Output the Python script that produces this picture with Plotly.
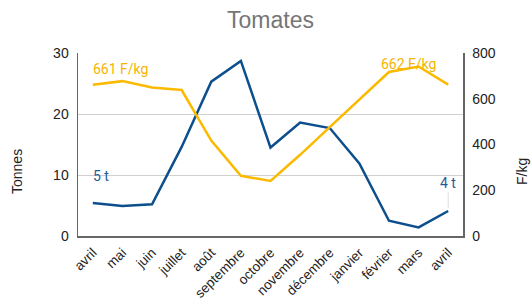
import plotly.graph_objects as go

months = ["avril", "mai", "juin", "juillet", "août", "septembre", "octobre",
          "novembre", "décembre", "janvier", "février", "mars", "avril"]
tonnes = [5.4, 4.9, 5.2, 14.6, 25.3, 28.7, 14.5, 18.6, 17.7, 11.9, 2.5, 1.4, 4.1]
prix = [661, 677, 649, 638, 417, 263, 241, 355, 476, 595, 717, 741, 662]

blue = "#0d4f8c"
orange = "#fbb900"
xs = list(range(len(months)))

W, H = 532, 304
L, R, T, B = 78, 69, 53, 68

fig = go.Figure()
fig.add_trace(go.Scatter(x=xs, y=tonnes, mode="lines", line=dict(color=blue, width=2.5),
                         yaxis="y", showlegend=False, hoverinfo="skip"))
fig.add_trace(go.Scatter(x=xs, y=prix, mode="lines", line=dict(color=orange, width=2.5),
                         yaxis="y2", showlegend=False, hoverinfo="skip"))

lab_font = "Roboto, Arial, sans-serif"
fig.add_annotation(x=0, y=prix[0], xref="x", yref="y2", text=f"{prix[0]} F/kg",
                   showarrow=False, xanchor="left", yanchor="middle", xshift=-2, yshift=16,
                   font=dict(family=lab_font, size=14, color="#f5b400"))
fig.add_annotation(x=0, y=tonnes[0], xref="x", yref="y", text=f"{round(tonnes[0])} t",
                   showarrow=False, xanchor="left", yanchor="middle", xshift=-2, yshift=27,
                   font=dict(family=lab_font, size=14, color="#1f5a99"))
fig.add_annotation(x=12, y=prix[12], xref="x", yref="y2", text=f"{prix[12]} F/kg",
                   showarrow=False, xanchor="right", yanchor="middle", xshift=-10, yshift=21,
                   font=dict(family=lab_font, size=14, color="#f5b400"))
fig.add_annotation(x=12, y=tonnes[12], xref="x", yref="y", text=f"{round(tonnes[12])} t",
                   showarrow=True, ax=0, ay=-28, arrowhead=0, arrowwidth=1, arrowcolor="#dddddd",
                   standoff=3, font=dict(family=lab_font, size=14, color="#1f5a99"))

# axis titles as paper annotations
fig.add_annotation(text="Tonnes", xref="paper", yref="paper", x=(17 - L) / (W - L - R),
                   y=(H - B - 172) / (H - T - B), showarrow=False, textangle=-90,
                   xanchor="center", yanchor="middle", font=dict(size=14, color="#222"))
fig.add_annotation(text="F/kg", xref="paper", yref="paper", x=(522 - L) / (W - L - R),
                   y=(H - B - 172) / (H - T - B), showarrow=False, textangle=-90,
                   xanchor="center", yanchor="middle", font=dict(size=14, color="#222"))

fig.update_layout(
    width=W, height=H,
    margin=dict(l=L, r=R, t=T, b=B, autoexpand=False),
    paper_bgcolor="white", plot_bgcolor="white",
    font=dict(family="Liberation Sans, Arial, sans-serif", size=14, color="#222"),
    title=dict(text="Tomates", font=dict(size=23, color="#767676"),
               xref="paper", x=0.5, xanchor="center", yref="container", y=0.934, yanchor="middle"),
    xaxis=dict(tickmode="array", tickvals=xs, ticktext=months, tickangle=-45,
               range=[-0.5, len(months) - 0.5], showline=True, linecolor="#666", linewidth=1.5,
               showgrid=False, zeroline=False, tickfont=dict(size=13.5), ticks="", automargin=False,
               ticklabelstandoff=2),
    yaxis=dict(range=[0, 30], dtick=10, showgrid=True, gridcolor="#d0d0d0", gridwidth=1,
               showline=True, linecolor="#666", linewidth=1.5, zeroline=False,
               ticklabelstandoff=5, automargin=False),
    yaxis2=dict(range=[0, 800], dtick=200, overlaying="y", side="right", showgrid=False,
                showline=True, linecolor="#666", linewidth=1.5, zeroline=False,
                ticklabelstandoff=5, automargin=False),
)

fig.write_html("out.html", config={"displayModeBar": False, "staticPlot": True},
               post_script="document.body.style.margin='0';document.body.style.overflow='hidden';")
